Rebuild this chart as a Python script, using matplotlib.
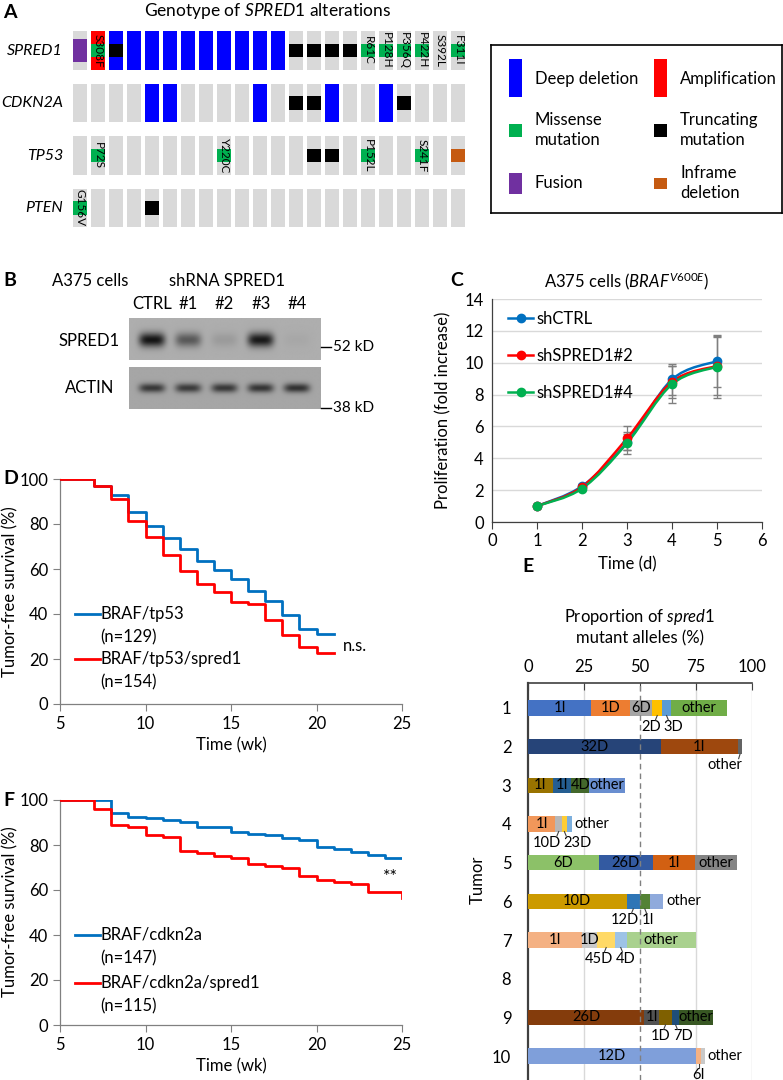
import numpy as np
import matplotlib
matplotlib.use("Agg")
import matplotlib.pyplot as plt
from matplotlib.patches import Rectangle, PathPatch
from matplotlib.path import Path
from matplotlib.lines import Line2D

plt.rcParams["font.family"] = ["Lato", "DejaVu Sans"]
plt.rcParams["mathtext.fontset"] = "custom"
plt.rcParams["mathtext.rm"] = "Lato"
plt.rcParams["mathtext.it"] = "Lato:italic"
plt.rcParams["font.size"] = 12

# ── data ────────────────────────────────────────────────────────────────────
# A: oncoprint (22 cases). F fusion, A amplification, D deep deletion,
#    M missense, T truncating, I inframe deletion
genes = ["SPRED1", "CDKN2A", "TP53", "PTEN"]
spred1_alt = ["F", "A+M", "D+T", "D", "D", "D", "D", "D", "D", "D", "D", "D",
              "T", "T", "T", "T", "M", "M", "M", "M", "", "M"]
cdkn2a_alt = ["", "", "", "", "D", "D", "", "", "", "", "D", "",
              "T", "T", "D", "", "", "D", "T", "", "", ""]
tp53_alt = ["", "M", "", "", "", "", "", "", "M", "", "", "",
            "", "T", "T", "", "M", "", "", "M", "", "I"]
pten_alt = ["M", "", "", "", "T", "", "", "", "", "", "", "",
            "", "", "", "", "", "", "", "", "", ""]
spred1_aa = {1: "S308F", 16: "R61C", 17: "P128H", 18: "P356Q", 19: "P422H", 20: "S392L", 21: "F311I"}
tp53_aa = {1: "P72S", 8: "Y220C", 16: "P152L", 19: "S241F"}
pten_aa = {0: "G156V"}
cdkn2a_aa = {}

# B: western blot band intensities
lanes = ["CTRL", "#1", "#2", "#3", "#4"]
spred1_band = [1.0, 0.55, 0.12, 0.97, 0.04]
actin_band = [0.72, 0.70, 0.72, 0.74, 0.76]

# C: proliferation
days = [1, 2, 3, 4, 5]
prolif_ctrl = [1.0, 2.25, 5.0, 8.95, 10.1]
prolif_sh2 = [1.0, 2.2, 5.25, 8.8, 9.8]
prolif_sh4 = [1.0, 2.1, 4.95, 8.65, 9.75]
err_ctrl = [0.05, 0.12, 0.5, 1.0, 1.65]
err_sh2 = [0.05, 0.1, 0.75, 1.0, 1.8]
err_sh4 = [0.05, 0.1, 0.7, 1.15, 1.95]

# D: BRAF/tp53 survival
d_time = [5, 7, 8, 9, 10, 11, 12, 13, 14, 15, 16, 17, 18, 19, 20, 21]
d_tp53 = [100, 97, 92.7, 85.3, 79.1, 73.8, 69.0, 63.7, 59.7, 55.7, 50.4, 45.9, 39.4, 33.3, 30.9, 30.9]
d_tp53_spred1 = [100, 97, 91.1, 81.2, 74.2, 66.4, 58.9, 53.3, 49.8, 45.3, 44.6, 37.2, 30.5, 25.2, 22.7, 22.7]

# F: BRAF/cdkn2a survival
f_time = [5, 7, 8, 9, 10, 11, 12, 13, 14, 15, 16, 17, 18, 19, 20, 21, 22, 23, 24, 25]
f_cdkn2a = [100, 100, 94.1, 92.6, 91.9, 91.1, 90.4, 87.9, 87.9, 85.6, 84.9, 84.3, 83.3, 82.2,
            79.1, 78.2, 76.9, 75.6, 74.1, 74.1]
f_cdkn2a_spred1 = [100, 96.0, 88.9, 88.0, 84.6, 83.7, 77.3, 76.6, 75.1, 74.1, 71.4, 70.7, 69.6,
                   66.4, 64.3, 63.4, 62.7, 59.1, 59.1, 56.3]

# E: spred1 mutant allele proportions per tumor
tumors = [1, 2, 3, 4, 5, 6, 7, 8, 9, 10]
allele_names = [
    ["1I", "1D", "6D", "2D", "3D", "other"],
    ["32D", "1I", "other"],
    ["1I", "1I", "4D", "other"],
    ["1I", "10D", "23D", "other"],
    ["6D", "26D", "1I", "other"],
    ["10D", "12D", "1I", "other"],
    ["1I", "1D", "45D", "4D", "other"],
    [],
    ["26D", "1I", "1D", "7D", "other"],
    ["12D", "6I", "other"],
]
allele_pct = [
    [28.3, 17.4, 9.7, 4.6, 3.7, 25.1],
    [59.2, 34.6, 1.7],
    [11.2, 8.2, 7.9, 16.0],
    [12.2, 3.0, 2.1, 2.3],
    [31.6, 24.2, 18.7, 18.8],
    [44.0, 6.0, 4.3, 6.1],
    [23.9, 7.1, 7.8, 5.2, 30.8],
    [],
    [51.9, 6.6, 5.8, 3.2, 14.9],
    [75.1, 2.2, 1.7],
]
allele_colors = [
    ["#4472C4", "#ED7D31", "#A5A5A5", "#FFC000", "#5B9BD5", "#70AD47"],
    ["#264478", "#9E480E", "#636363"],
    ["#997300", "#255E91", "#43682B", "#698ED0"],
    ["#F1975A", "#B7B7B7", "#FFCD33", "#7CAFDD"],
    ["#8CC168", "#335AA1", "#D26012", "#848484"],
    ["#CC9A00", "#2E75B6", "#548235", "#8FAADC"],
    ["#F4B183", "#C9C9C9", "#FFD966", "#9DC3E6", "#A9D18E"],
    [],
    ["#843C0C", "#525252", "#7F6000", "#1F4E79", "#385723"],
    ["#7F9FDA", "#F4B183", "#C9C9C9"],
]
# label placement: in = inside, r = right of bar, bl/br = below left/right of a boundary,
# bc = below centred, be = below, right-aligned to segment end
label_place = [
    ["in", "in", "in", "bl", "br", "in"],
    ["in", "in", "be"],
    ["in", "in", "in", "in"],
    ["in", "bl", "br", "r"],
    ["in", "in", "in", "in"],
    ["in", "bl", "br", "r"],
    ["in", "in", "bl", "br", "in"],
    [],
    ["in", "in", "bl", "br", "in"],
    ["in", "bc", "r"],
]

# ── figure helpers ──────────────────────────────────────────────────────────
W, H = 783, 1080
fig = plt.figure(figsize=(W / 100, H / 100), dpi=100)


def axes_px(x0, y0, x1, y1):
    return fig.add_axes([x0 / W, 1 - y1 / H, (x1 - x0) / W, (y1 - y0) / H])


def ftext(x, y, s, **kw):
    kw.setdefault("ha", "left")
    kw.setdefault("va", "center")
    return fig.text(x / W, 1 - y / H, s, **kw)


def panel(x, y, s):
    ftext(x, y, s, fontsize=14, fontweight="bold")


# ── A: oncoprint ────────────────────────────────────────────────────────────
panel(3, 12, "A")
ftext(268, 11, "Genotype of $\\it{SPRED1}$ alterations", ha="center", fontsize=12.5)

axA = axes_px(62, 25, 470, 235)
axA.set_xlim(-1.0, 21.67)
axA.set_ylim(3.514, -0.486)
axA.axis("off")

alt_colors = {"D": "#0000FF", "A": "#FF0000", "M": "#00B050", "T": "#000000",
              "F": "#7030A0", "I": "#C55A11"}
alt_half = {"D": 0.371, "A": 0.371, "F": 0.215, "M": 0.13, "T": 0.13, "I": 0.13}
hw = 0.39
for r, (alts, aa) in enumerate(zip([spred1_alt, cdkn2a_alt, tp53_alt, pten_alt],
                                   [spred1_aa, cdkn2a_aa, tp53_aa, pten_aa])):
    axA.text(-0.95, r, genes[r], ha="right", va="center", fontsize=11.5, fontstyle="italic")
    for c, code in enumerate(alts):
        axA.add_patch(Rectangle((c - hw, r - 0.371), 2 * hw, 0.742, color="#D9D9D9", lw=0))
        parts = [p for p in code.split("+") if p]
        parts.sort(key=lambda p: -alt_half[p])
        for p in parts:
            h = alt_half[p]
            axA.add_patch(Rectangle((c - hw, r - h), 2 * hw, 2 * h, color=alt_colors[p], lw=0))
        if c in aa:
            axA.text(c + 0.02, r, aa[c], rotation=-90, ha="center", va="center", fontsize=8.5)

# legend box
axL = axes_px(491, 45, 782, 213)
axL.set_xlim(0, 291)
axL.set_ylim(168, 0)
axL.set_xticks([])
axL.set_yticks([])
for s in axL.spines.values():
    s.set_linewidth(1.2)
legend_items = [
    ("D", 18, 14, 38, "Deep deletion", 34),
    ("A", 163, 14, 38, "Amplification", 34),
    ("M", 18, 79, 13, "Missense\nmutation", 85),
    ("T", 163, 79, 13, "Truncating\nmutation", 85),
    ("F", 18, 128, 21, "Fusion", 138),
    ("I", 163, 133, 11, "Inframe\ndeletion", 138),
]
for code, x, y, h, txt, ty in legend_items:
    axL.add_patch(Rectangle((x, y), 13, h, color=alt_colors[code], lw=0))
    axL.text(x + 26, ty, txt, ha="left", va="center", fontsize=12, linespacing=1.25)

# ── B: western blot ─────────────────────────────────────────────────────────
panel(3, 281, "B")
ftext(52, 281, "A375 cells", fontsize=12)
ftext(169, 281, "shRNA SPRED1", fontsize=12)


def blot(ax, intens, yc, sy, bg):
    xs = np.linspace(-0.63, 4.66, 400)
    ys = np.linspace(0, 1, 90)
    X, Y = np.meshgrid(xs, ys)
    img = np.full_like(X, bg)
    for i, v in enumerate(intens):
        img -= 0.6 * v * np.exp(-(np.abs(X - i) / 0.36) ** 4) * np.exp(-((Y - yc) / sy) ** 2)
    ax.imshow(img, cmap="gray", vmin=0, vmax=1, extent=(-0.63, 4.66, 1, 0), aspect="auto",
              interpolation="bilinear")
    ax.set_xlim(-0.63, 4.66)
    ax.set_ylim(1, 0)
    for s in ax.spines.values():
        s.set_visible(False)
    ax.set_yticks([])


axS = axes_px(129, 318, 321, 360)
blot(axS, spred1_band, 0.52, 0.17, 0.68)
axS.xaxis.tick_top()
axS.set_xticks(range(len(lanes)))
axS.set_xticklabels(lanes, fontsize=12)
axS.tick_params(axis="x", length=0, pad=4)

axT = axes_px(129, 367, 321, 409)
blot(axT, actin_band, 0.5, 0.11, 0.65)
axT.set_xticks([])

ftext(89, 341, "SPRED1", ha="center", fontsize=12)
ftext(90, 388, "ACTIN", ha="center", fontsize=12)
for yy, lab in [(347, "52 kD"), (408, "38 kD")]:
    fig.add_artist(Line2D([321 / W, 331 / W], [1 - yy / H] * 2, color="black", lw=1))
    ftext(333, yy, lab, fontsize=11)

# ── C: proliferation ────────────────────────────────────────────────────────
panel(450, 280, "C")
ftext(627, 281, "A375 cells ($\\it{BRAF}^{\\it{V600E}}$)", ha="center", fontsize=12)
axC = axes_px(492, 299, 762, 522)


def smooth_path(xs, ys):
    pts = np.column_stack([xs, ys]).astype(float)
    verts = [pts[0]]
    codes = [Path.MOVETO]
    n = len(pts)
    for i in range(n - 1):
        p0, p1, p2, p3 = pts[max(i - 1, 0)], pts[i], pts[i + 1], pts[min(i + 2, n - 1)]
        verts += [p1 + (p2 - p0) / 6, p2 - (p3 - p1) / 6, p2]
        codes += [Path.CURVE4] * 3
    return Path(verts, codes)


c_series = [("shCTRL", prolif_ctrl, err_ctrl, "#0070C0"),
            ("shSPRED1#2", prolif_sh2, err_sh2, "#FF0000"),
            ("shSPRED1#4", prolif_sh4, err_sh4, "#00B050")]
handles = []
for name, vals, err, col in c_series:
    axC.errorbar(days, vals, yerr=err, fmt="none", ecolor="#7F7F7F", elinewidth=0.9, capsize=3,
                 zorder=2)
for name, vals, err, col in c_series:
    axC.add_patch(PathPatch(smooth_path(days, vals), fill=False, edgecolor=col, lw=1.8, zorder=3))
    axC.plot(days, vals, "o", color=col, ms=6, zorder=4)
    handles.append(Line2D([], [], color=col, lw=1.8, marker="o", ms=6))
axC.legend(handles, [s[0] for s in c_series], loc="upper left", bbox_to_anchor=(0.06, 0.945),
           frameon=False, fontsize=12, handlelength=1.5, handletextpad=0.2, labelspacing=1.25,
           borderaxespad=0, borderpad=0)
axC.set_xlim(0, 6)
axC.set_ylim(0, 14)
axC.set_xticks(range(0, 7))
axC.set_yticks(range(0, 15, 2))
axC.yaxis.grid(True, color="#D9D9D9", lw=1)
axC.set_axisbelow(True)
for s in ["top", "right"]:
    axC.spines[s].set_visible(False)
for s in ["left", "bottom"]:
    axC.spines[s].set_color("#404040")
    axC.spines[s].set_linewidth(0.9)
axC.tick_params(axis="x", direction="out", length=5, color="#404040", labelsize=12, pad=3)
axC.tick_params(axis="y", length=0, labelsize=12, pad=6)
axC.set_xlabel("Time (d)", fontsize=12, labelpad=5)
axC.set_ylabel("Proliferation (fold increase)", fontsize=12, labelpad=9)


# ── D / F: survival ─────────────────────────────────────────────────────────
def survival(ax, t, blue, red, lab_b, lab_r, red_y):
    ax.step(t, blue, where="post", color="#0070C0", lw=2, zorder=3)
    ax.step(t, red, where="post", color="#FF0000", lw=2, zorder=3)
    ax.set_xlim(5, 25)
    ax.set_ylim(0, 100)
    ax.set_xticks(range(5, 26, 5))
    ax.set_yticks(range(0, 101, 20))
    for s in ["top", "right"]:
        ax.spines[s].set_visible(False)
    for s in ["left", "bottom"]:
        ax.spines[s].set_color("#808080")
        ax.spines[s].set_linewidth(0.9)
    ax.tick_params(direction="out", length=5, color="#808080", labelsize=12)
    ax.set_xlabel("Time (wk)", fontsize=12, labelpad=4)
    for y, col, lab in [(0.4, "#0070C0", lab_b), (red_y, "#FF0000", lab_r)]:
        ax.plot([0.044, 0.117], [y, y], color=col, lw=2, transform=ax.transAxes)
        ax.text(0.119, y, lab[0], transform=ax.transAxes, ha="left", va="center", fontsize=12)
        ax.text(0.119, y - 0.105, lab[1], transform=ax.transAxes, ha="left", va="center",
                fontsize=12)


panel(3, 479, "D")
axD = axes_px(60, 479, 402, 704)
survival(axD, d_time, d_tp53, d_tp53_spred1, ("BRAF/tp53", "(n=129)"),
         ("BRAF/tp53/spred1", "(n=154)"), 0.2)
ftext(343, 646, "n.s.", fontsize=12)
ftext(10, 592, "Tumor-free survival (%)", ha="center", rotation=90, fontsize=12)

panel(3, 800, "F")
axF = axes_px(60, 800, 402, 1025)
survival(axF, f_time, f_cdkn2a, f_cdkn2a_spred1, ("BRAF/cdkn2a", "(n=147)"),
         ("BRAF/cdkn2a/spred1", "(n=115)"), 0.187)
ftext(390, 877, "**", ha="center", fontsize=13)
ftext(10, 912, "Tumor-free survival (%)", ha="center", rotation=90, fontsize=12)

# ── E: allele proportions ───────────────────────────────────────────────────
panel(522, 567, "E")
ftext(640, 617, "Proportion of $\\it{spred1}$", ha="center", fontsize=12)
ftext(640, 638, "mutant alleles (%)", ha="center", fontsize=12)

axE = axes_px(528, 683, 752, 1080)
axE.set_xlim(0, 100)
axE.set_ylim(10.62, 0.354)
bar_h = 0.39
for ti, names, pcts, cols, places in zip(tumors, allele_names, allele_pct, allele_colors,
                                         label_place):
    left = 0.0
    for name, w, col, pl in zip(names, pcts, cols, places):
        axE.barh(ti, w, left=left, height=bar_h, color=col, lw=0, zorder=3)
        cx = left + w / 2
        right = left + w
        if pl == "in":
            axE.text(cx, ti, name, ha="center", va="center", fontsize=10.5, zorder=4)
        elif pl == "r":
            axE.text(right + 1.2, ti, name, ha="left", va="center", fontsize=10.5)
        else:
            ly = ti + 0.48
            if pl == "bl":
                tx, ha, dx = right - 0.6, "right", -0.8
            elif pl == "br":
                tx, ha, dx = left + 0.6, "left", 0.8
            elif pl == "bc":
                tx, ha, dx = cx, "center", 0
            else:
                tx, ha, dx = right, "right", -0.6
            axE.plot([cx, cx + dx], [ti + bar_h / 2, ti + 0.31], color="#404040", lw=0.8,
                     zorder=4)
            axE.text(tx, ly, name, ha=ha, va="center", fontsize=10.5)
        left = right

for gx in [25, 75, 100]:
    axE.axvline(gx, color="#D9D9D9", lw=1, zorder=1)
axE.axvline(50, color="#808080", lw=1, ls=(0, (4, 3)), zorder=5)
axE.xaxis.tick_top()
axE.set_xticks([0, 25, 50, 75, 100])
axE.tick_params(axis="x", direction="in", length=5, color="#404040", labelsize=12, pad=6)
axE.set_yticks(tumors)
axE.set_yticklabels([str(t) for t in tumors])
axE.tick_params(axis="y", length=0, labelsize=12, pad=12)
for s in ["bottom", "right"]:
    axE.spines[s].set_visible(False)
axE.spines["top"].set_color("#404040")
axE.spines["top"].set_linewidth(1.2)
axE.spines["left"].set_color("#404040")
axE.spines["left"].set_linewidth(1.6)
ftext(478, 880, "Tumor", ha="center", rotation=90, fontsize=12)

fig.savefig("out.png", dpi=100)
